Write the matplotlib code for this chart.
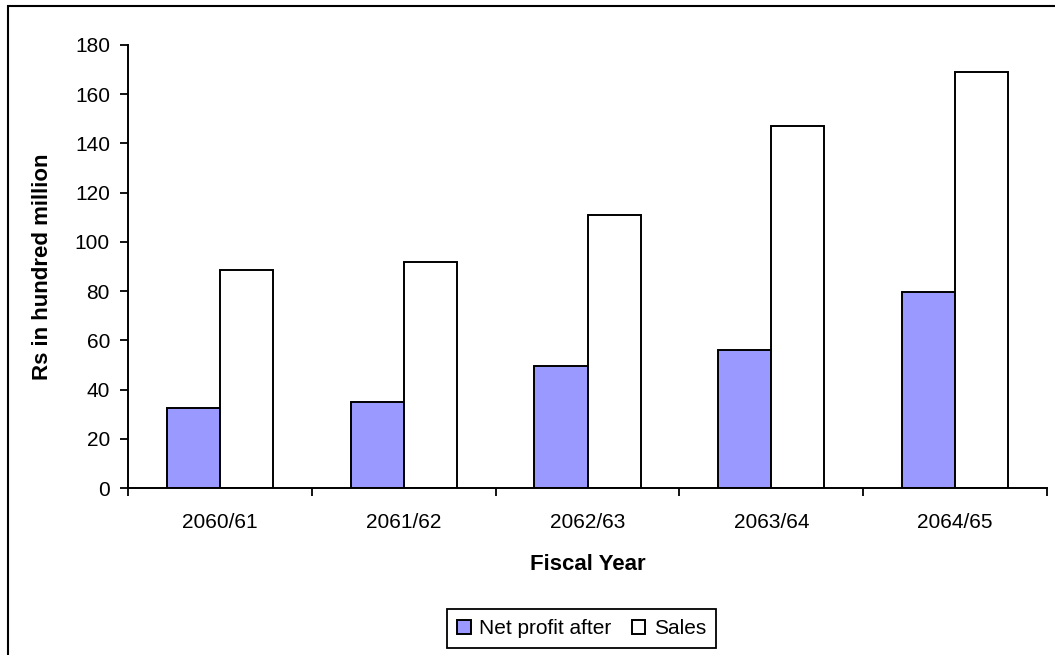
import matplotlib.pyplot as plt
from matplotlib.patches import Rectangle
import numpy as np

# data
years = ['2060/61', '2061/62', '2062/63', '2063/64', '2064/65']
net_profit = [32.5, 35, 49.6, 56, 79.6]
sales = [88.5, 92, 110.8, 147.1, 169]

plt.rcParams['font.family'] = ['Liberation Sans', 'DejaVu Sans']

fig = plt.figure(figsize=(10.55, 6.55), dpi=100)
ax = fig.add_axes([128 / 1055, 1 - 488 / 655, 919 / 1055, 443 / 655])

x = np.arange(len(years))
w = 0.2885
b1 = ax.bar(x - w / 2, net_profit, w, color='#9999FF', edgecolor='black', linewidth=1.4, label='Net profit after')
b2 = ax.bar(x + w / 2, sales, w, color='white', edgecolor='black', linewidth=1.4, label='Sales')

ax.set_xlim(-0.5, len(years) - 0.5)
ax.set_ylim(0, 180)
ax.set_yticks(range(0, 181, 20))
ax.set_xticks(x)
ax.set_xticklabels(years)
ax.set_xticks(np.arange(-0.5, len(years)), minor=True)
ax.tick_params(axis='x', which='major', length=0, pad=18, labelsize=15)
ax.tick_params(axis='x', which='minor', length=6, width=1.3, direction='out')
ax.tick_params(axis='y', length=6, width=1.3, direction='out', pad=7, labelsize=15)

for s in ['top', 'right']:
    ax.spines[s].set_visible(False)
for s in ['left', 'bottom']:
    ax.spines[s].set_linewidth(1.4)

ax.set_xlabel('Fiscal Year', fontsize=16, fontweight='bold', labelpad=16)
ax.set_ylabel('Rs in hundred million', fontsize=16, fontweight='bold')
ax.yaxis.set_label_coords(-(128 - 53) / 919, 0.5)

leg = fig.legend(handles=[b1, b2], loc='center', bbox_to_anchor=(581.5 / 1055, 1 - 628.5 / 655),
                 ncol=2, fontsize=15, fancybox=False, edgecolor='black', framealpha=1,
                 handlelength=0.65, handleheight=0.65, handletextpad=0.4, columnspacing=1.0,
                 borderpad=0.5, borderaxespad=0)
leg.get_frame().set_linewidth(1.3)

# outer chart frame (runs off the right and bottom edges)
fig.patches.append(Rectangle((8 / 1055, -0.2), 1.5, 1.2 - 5.5 / 655, transform=fig.transFigure,
                             fill=False, edgecolor='black', linewidth=1.5))

fig.savefig('out.png', dpi=100)
